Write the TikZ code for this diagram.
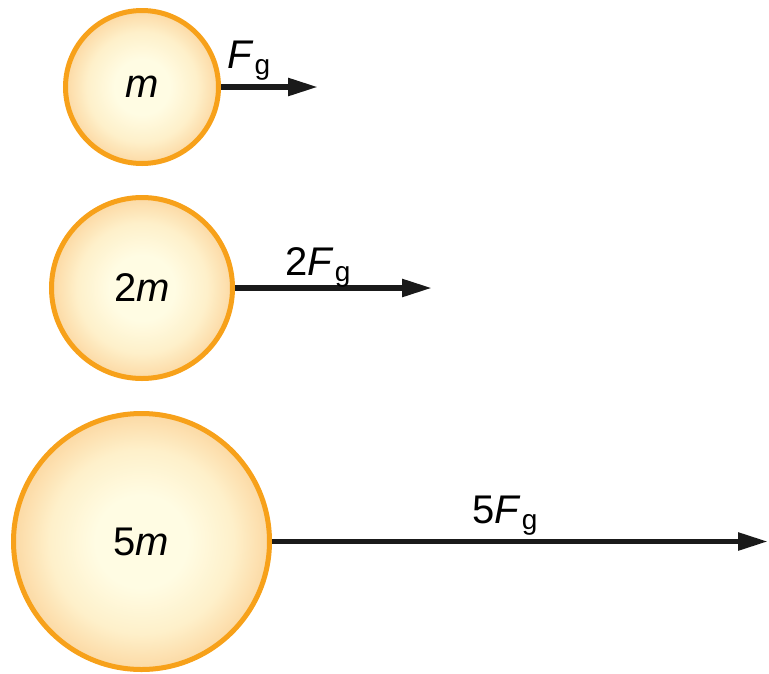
\documentclass[tikz,border=0pt]{standalone}
\usepackage{fontspec}
\setmainfont{Liberation Sans}
\usetikzlibrary{arrows.meta}
\definecolor{ballin}{HTML}{FFFCE3}
\definecolor{ballmid}{HTML}{FEF0CA}
\definecolor{ballout}{HTML}{FCD9A4}
\definecolor{ballrim}{HTML}{F7A11A}
\definecolor{arrowc}{HTML}{1A1A1A}
\pgfdeclareradialshading{ballshade}{\pgfpoint{0bp}{0bp}}{color(0bp)=(ballin); color(9bp)=(ballin); color(18bp)=(ballmid); color(25bp)=(ballout); color(50bp)=(ballout)}
\newcommand{\Fg}{\textit{F}\kern1pt\raisebox{-6pt}{\fontsize{28}{28}\selectfont g}}
\begin{document}
\begin{tikzpicture}[x=1pt,y=-1pt,
  ball/.style={circle, draw=ballrim, line width=5pt, shading=ballshade, inner sep=0pt,
    font=\fontsize{40}{40}\selectfont},
  force/.style={draw=arrowc, line width=5.5pt, -{Triangle[length=30pt,width=17pt]}},
  flabel/.style={anchor=base west, inner sep=0pt, font=\fontsize{40}{40}\selectfont}]
\useasboundingbox (0,0) rectangle (769,673);
\node[ball, minimum size=153pt] (b1) at (142,87) {\textit{m}};
\node[ball, minimum size=181pt] (b2) at (142,288) {2\textit{m}};
\node[ball, minimum size=256pt] (b3) at (141.5,541.5) {5\textit{m}};
\coordinate (t1) at (318,87);
\coordinate (t2) at (432,289);
\coordinate (t3) at (768,541);
\draw[force] (b1.east) -- (t1);
\draw[force] (b2.east) -- (b2.east -| t2);
\draw[force] (b3.east) -- (b3.east -| t3);
\node[flabel] (l1) at (227,68) {\Fg};
\node[flabel] (l2) at (285,275) {2\Fg};
\node[flabel] (l3) at (472,523) {5\Fg};
\end{tikzpicture}
\end{document}
